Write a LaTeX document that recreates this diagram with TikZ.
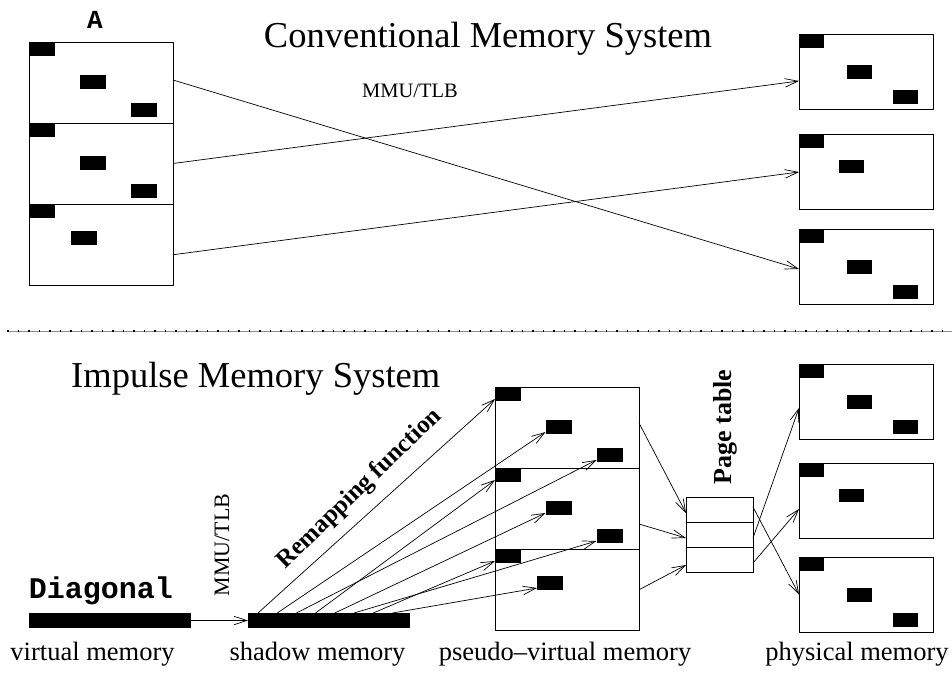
\documentclass[tikz,border=0pt]{standalone}
\usepackage{fontspec}
\setmainfont{Liberation Serif}
\newfontfamily\codefont{Liberation Mono}
\usetikzlibrary{arrows.meta}

\tikzset{
  blk/.style={fill=black, draw=none, inner sep=0pt, outer sep=0pt, anchor=north west},
  sblk/.style={blk, minimum width=26pt, minimum height=14pt},
  pblk/.style={blk, minimum width=25pt, minimum height=13.5pt},
  sect/.style={draw=black, line width=0.8pt, inner sep=0pt, outer sep=0pt, anchor=north west,
               minimum width=144pt, minimum height=81pt},
  pframe/.style={draw=black, line width=0.8pt, inner sep=0pt, outer sep=0pt, anchor=north west,
                 minimum width=134pt, minimum height=75pt},
  ptrow/.style={draw=black, line width=0.8pt, inner sep=0pt, outer sep=0pt, anchor=north west,
                minimum width=67pt, minimum height=25pt},
  bar/.style={fill=black, inner sep=0pt, outer sep=0pt, anchor=north west,
              minimum width=162pt, minimum height=15pt},
  link/.style={line width=0.7pt, -{Straight Barb[length=13pt,width=8.5pt]}},
  title/.style={font=\fontsize{36.5}{40}\selectfont, inner sep=0pt, anchor=base},
  caption/.style={font=\fontsize{26.5}{30}\selectfont, inner sep=0pt, anchor=base},
  codelabel/.style={font=\codefont\bfseries, inner sep=0pt},
}

% a page of three sections holding black data blocks
\newcommand\pagestack[3]{%
  \begin{scope}[shift={(#2,#3)}]
    \node[sect] (#1-s1) at (0,0) {};
    \node[sect] (#1-s2) at (0,81) {};
    \node[sect, minimum height=81.5pt] (#1-s3) at (0,162) {};
    \node[sblk] (#1-a1) at (0,0) {};
    \node[sblk] (#1-b1) at (50.5,33) {};
    \node[sblk] (#1-c1) at (101.5,61) {};
    \node[sblk] (#1-a2) at (0,81) {};
    \node[sblk] (#1-b2) at (50.5,114) {};
    \node[sblk] (#1-c2) at (101.5,142) {};
    \node[sblk] (#1-a3) at (0,162) {};
    \node[sblk] (#1-b3) at (42,189) {};
  \end{scope}}

% a physical page frame with one or three blocks
\newcommand\pageframe[4]{%
  \begin{scope}[shift={(#2,#3)}]
    \node[pframe] (#1) at (0,0) {};
    \node[pblk] (#1-a) at (0,0) {};
    \ifnum#4=3
      \node[pblk] (#1-b) at (48,31) {};
      \node[pblk] (#1-c) at (94,56) {};
    \else
      \node[pblk] (#1-b) at (40,25) {};
    \fi
  \end{scope}}

\begin{document}
\begin{tikzpicture}[x=1pt, y=-1pt]
  \useasboundingbox (0,0) rectangle (952,672);
  \fill[white] (0,0) rectangle (952,672);

  % ---------------- conventional system ----------------
  \node[codelabel, font=\codefont\bfseries\fontsize{26}{28}\selectfont] (lblA) at (95,20) {A};
  \node[title] (conv) at (488,47) {Conventional Memory System};
  \node[font=\fontsize{20.5}{24}\selectfont, inner sep=0pt, anchor=base] (mmuA) at (410,97) {MMU/TLB};

  \pagestack{A}{29}{42}
  \pageframe{T1}{799}{34}{3}
  \pageframe{T2}{799}{134.5}{1}
  \pageframe{T3}{799}{229}{3}

  \draw[link] ([yshift=2.5pt]A-s1.east) -- ([yshift=-2.5pt]T3.west);
  \draw[link] (A-s2.east) -- ([yshift=-9.5pt]T1.west);
  \draw[link] ([yshift=-10pt]A-s3.east) -- (T2.west);

  % ---------------- separator ----------------
  \coordinate (sepL) at (7,331);
  \coordinate (sepR) at (952,331);
  \draw[black!45, line width=0.8pt] (sepL) -- (sepR);
  \draw[black, line width=1.6pt, dash pattern=on 1.6pt off 8.9pt] (sepL) -- (sepR);

  % ---------------- impulse system ----------------
  \node[title, anchor=base west] (imp) at (71,387) {Impulse Memory System};

  \node[bar] (V) at (29,613) {};
  \node[bar] (S) at (248,613) {};
  \node[codelabel, font=\codefont\bfseries\fontsize{30}{32}\selectfont, anchor=base] (diag) at (101,598) {Diagonal};
  \node[font=\fontsize{22}{24}\selectfont, rotate=90, inner sep=0pt] (mmuB) at (222,545) {MMU/TLB};
  \draw[link] (V.east) -- (S.west);

  \pagestack{P}{495}{387}
  \node[font=\bfseries\fontsize{25}{28}\selectfont, rotate=44, inner sep=0pt] (remap) at (360,489) {Remapping function};

  \foreach \t [count=\k from 0] in {a1,b1,c1,a2,b2,c2,a3,b3}
    \draw[link] ([xshift={10pt+19.2pt*\k}]S.north west) -- ([yshift=2pt]P-\t.south west);

  % page table
  \node[ptrow] (R1) at (686,497) {};
  \node[ptrow] (R2) at (686,522.5) {};
  \node[ptrow] (R3) at (686,547.5) {};
  \node[font=\bfseries\fontsize{26}{28}\selectfont, rotate=90, inner sep=0pt] (ptab) at (725,427) {Page table};

  \draw[link] ([yshift=4.5pt]P-s1.east) -- ([yshift=-3.5pt]R1.west);
  \draw[link] ([yshift=-15.5pt]P-s2.east) -- ([yshift=-3pt]R2.west);
  \draw[link] (P-s3.east) -- ([yshift=-5pt]R3.west);

  % physical frames
  \pageframe{M1}{799}{364}{3}
  \pageframe{M2}{799}{463.5}{1}
  \pageframe{M3}{799}{557}{3}

  \draw[link] ([yshift=2.5pt]R1.east) -- (M3.west);
  \draw[link] ([yshift=-3pt]R2.east) -- ([yshift=-6.5pt]M1.west);
  \draw[link] ([yshift=-3pt]R3.east) -- ([yshift=-8pt]M2.west);

  % captions
  \node[caption] (capV) at (92.5,660) {virtual memory};
  \node[caption] (capS) at (317.5,660) {shadow memory};
  \node[caption] (capP) at (565,660) {pseudo--virtual memory};
  \node[caption] (capM) at (857,660) {physical memory};
\end{tikzpicture}
\end{document}
